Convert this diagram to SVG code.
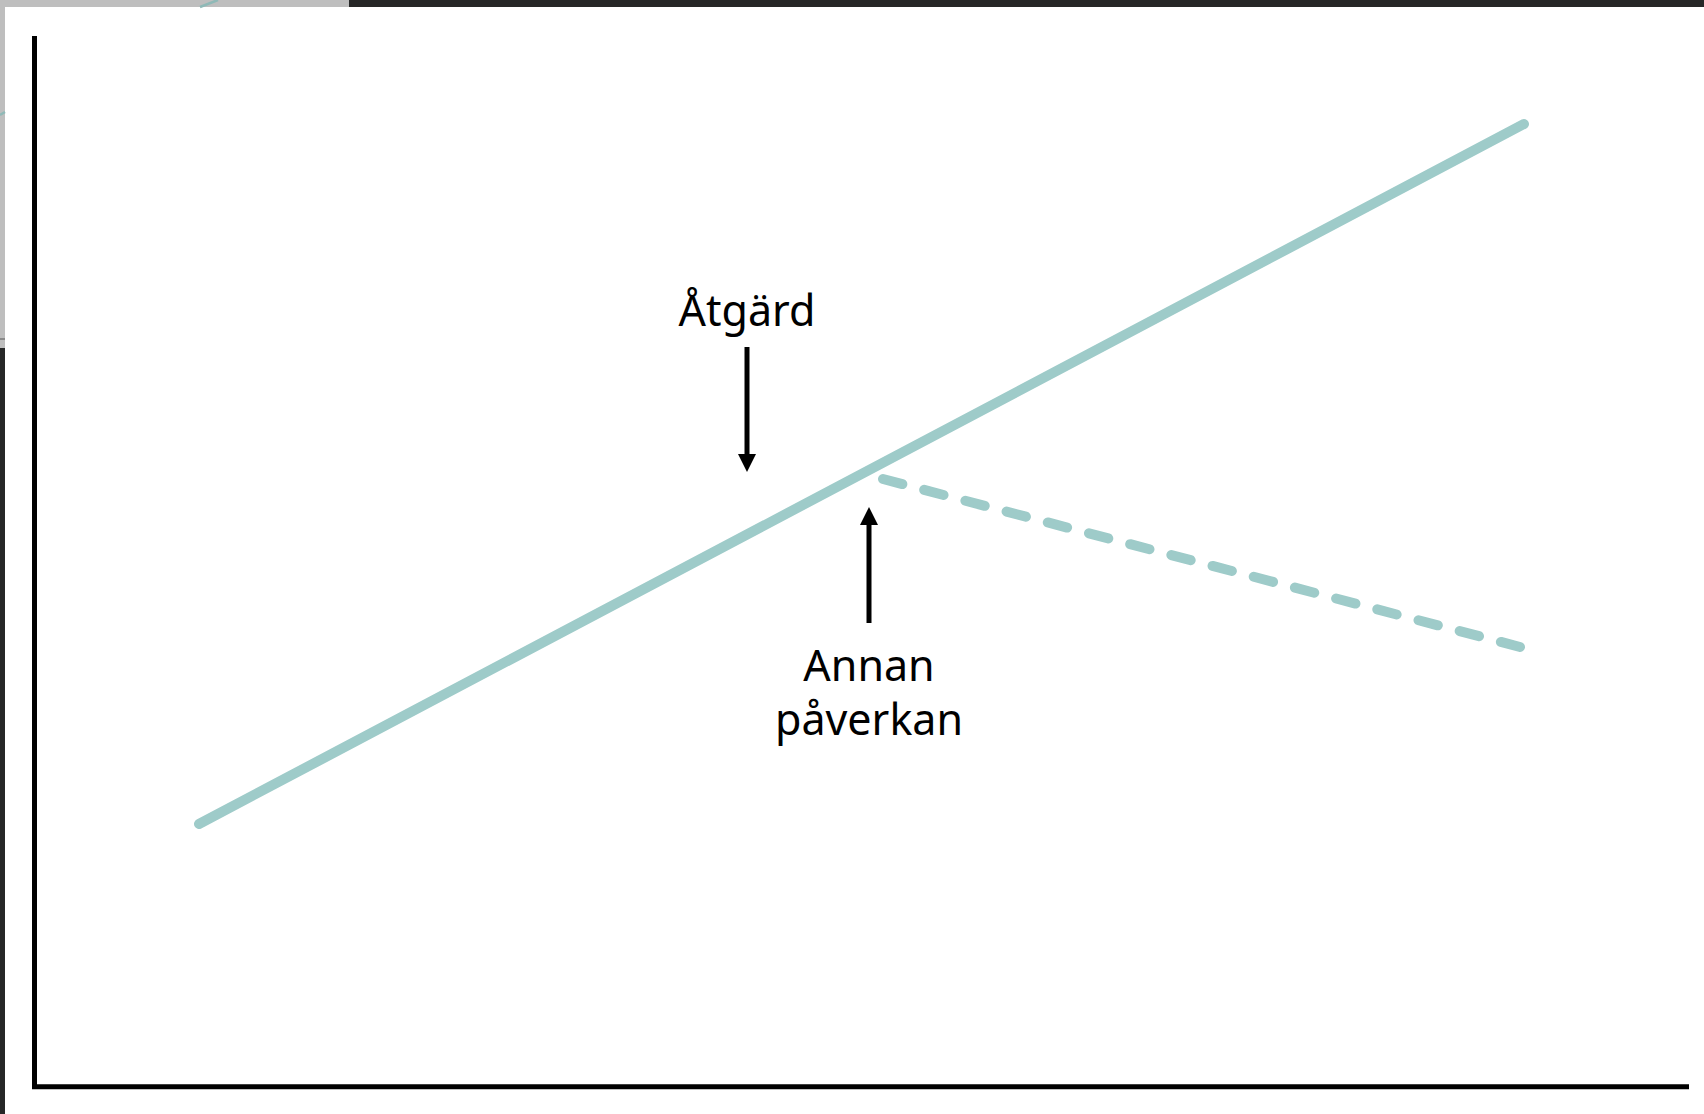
<svg xmlns="http://www.w3.org/2000/svg" width="1704" height="1114" viewBox="0 0 1704 1114">
  <style>
    .trend { fill: none; stroke: #9ecbc9; stroke-width: 10; stroke-linecap: round; }
    .dash { stroke-dasharray: 20 22.6; }
    .axis { fill: none; stroke: #000; stroke-width: 5; stroke-linejoin: miter; }
    .arrow { stroke: #000; stroke-width: 5; fill: none; marker-end: url(#head); }
    .label { font-family: "Noto Sans", "Open Sans", sans-serif; font-weight: 400; font-size: 43px; fill: #000; text-anchor: middle; }
  </style>
  <defs>
    <marker id="head" markerUnits="userSpaceOnUse" markerWidth="18" markerHeight="18" refX="0" refY="9" orient="auto" viewBox="0 0 18 18">
      <path d="M0,0 L18,9 L0,18 Z" fill="#000"/>
    </marker>
  </defs>

  <g id="background">
    <rect x="0" y="0" width="1704" height="1114" fill="#ffffff"/>
    <rect x="0" y="0" width="349" height="7" fill="#bebebe"/>
    <rect x="0" y="0" width="5" height="348" fill="#bebebe"/>
    <rect x="349" y="0" width="1355" height="7" fill="#262727"/>
    <rect x="0" y="348" width="5" height="766" fill="#262727"/>
    <line x1="200" y1="7" x2="218" y2="0" stroke="#8fb9b7" stroke-width="2.5"/>
    <line x1="0" y1="115" x2="5" y2="112" stroke="#8fb9b7" stroke-width="2.5"/>
    <line x1="0" y1="339" x2="5" y2="339" stroke="#555" stroke-width="1"/>
  </g>

  <g id="axes">
    <path class="axis" d="M34.5,36 V1086.8 H1689"/>
  </g>

  <g id="connectors">
    <line id="trend-solid" class="trend" x1="199" y1="824" x2="1524" y2="124"/>
    <line id="trend-dashed" class="trend dash" x1="883" y1="479" x2="1520" y2="647"/>
    <line id="arrow-atgard" class="arrow" x1="747" y1="347" x2="747" y2="454"/>
    <line id="arrow-annan" class="arrow" x1="869" y1="623" x2="869" y2="525"/>
  </g>

  <g id="node-atgard">
    <text class="label" x="747" y="326">Åtgärd</text>
  </g>
  <g id="node-annan">
    <text class="label" x="869" y="681">Annan</text>
    <text class="label" x="869" y="735">påverkan</text>
  </g>
</svg>
